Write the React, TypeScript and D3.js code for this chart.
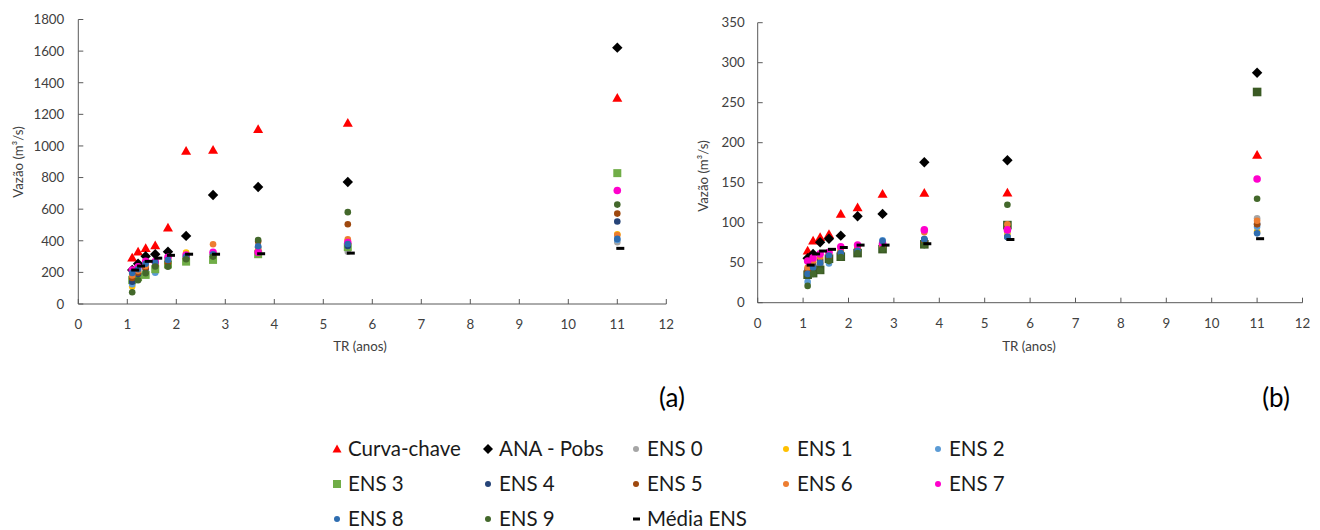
import React from "react";
import * as d3 from "d3";

// Return periods (anos)
const TR = [1.1, 1.22, 1.375, 1.57, 1.83, 2.2, 2.75, 3.67, 5.5, 11];
const xTicks = [0, 1, 2, 3, 4, 5, 6, 7, 8, 9, 10, 11, 12];
const yTicksA = [0, 200, 400, 600, 800, 1000, 1200, 1400, 1600, 1800];
const yTicksB = [0, 50, 100, 150, 200, 250, 300, 350];

// Chart (a)
const curvaA = [293, 331, 353, 370, 482, 968, 974, 1105, 1145, 1303];
const anaA = [215, 255, 302, 315, 331, 431, 690, 740, 772, 1622];
const ens0A = [130, 165, 200, 235, 270, 300, 305, 330, 331, 391];
const ens1A = [110, 175, 215, 250, 285, 325, 315, 340, 401, 441];
const ens2A = [125, 160, 205, 198, 260, 290, 300, 335, 375, 405];
const ens3A = [152, 170, 184, 220, 250, 268, 279, 315, 360, 828];
const ens4A = [141, 190, 225, 255, 270, 295, 310, 359, 367, 522];
const ens5A = [165, 200, 230, 245, 258, 290, 305, 395, 505, 572];
const ens6A = [180, 210, 240, 260, 280, 305, 378, 345, 410, 437];
const ens7A = [215, 235, 270, 268, 296, 310, 327, 327, 389, 718];
const ens8A = [196, 220, 255, 262, 279, 300, 315, 365, 380, 412];
const ens9A = [74, 150, 195, 237, 236, 283, 300, 405, 581, 629];
const mediaA = [215, 240, 270, 290, 308, 315, 315, 318, 322, 352];

// Chart (b)
const curvaB = [65, 77.5, 81.7, 85.5, 111, 119, 136, 137, 137.5, 184.6];
const anaB = [55.5, 61, 75.5, 80, 83.8, 108, 111, 175.5, 178, 287.5];
const ens0B = [32, 40, 47, 55, 62, 66, 70, 76, 85, 105.5];
const ens1B = [38, 50, 55, 60, 65, 69, 72, 77, 87, 88.8];
const ens2B = [26, 42, 48, 49, 60, 64, 78, 80, 90, 95];
const ens3B = [35, 37, 41, 55, 57.5, 62, 67, 73, 97, 263.4];
const ens4B = [42, 47, 53, 58, 63, 66, 70, 79, 82, 98.4];
const ens5B = [40, 45, 50, 57, 63, 67, 70, 76, 93, 98];
const ens6B = [44, 52, 57, 61, 66, 70, 71, 88, 98, 102.5];
const ens7B = [52, 56, 61, 63, 70, 72, 74, 91, 91, 154.6];
const ens8B = [36, 44, 50, 59, 62, 65, 77, 79, 82, 86.7];
const ens9B = [21, 36, 40, 52, 57, 62, 67, 72, 122.5, 130];
const mediaB = [47, 61, 64.6, 66.7, 69, 72, 72, 73.7, 79, 80];

const seriesNames = [
  "Curva-chave", "ANA - Pobs", "ENS 0", "ENS 1", "ENS 2", "ENS 3", "ENS 4",
  "ENS 5", "ENS 6", "ENS 7", "ENS 8", "ENS 9", "Média ENS",
];

type Shape = "tri" | "dia" | "circ" | "sq" | "dash";
type Style = { shape: Shape; color: string; r: number };

const stylesA: Style[] = [
  { shape: "tri", color: "#FF0000", r: 5 },
  { shape: "dia", color: "#000000", r: 5.2 },
  { shape: "circ", color: "#A5A5A5", r: 3.3 },
  { shape: "circ", color: "#FFC000", r: 3.3 },
  { shape: "circ", color: "#5B9BD5", r: 3.3 },
  { shape: "sq", color: "#70AD47", r: 4 },
  { shape: "circ", color: "#264478", r: 3.3 },
  { shape: "circ", color: "#9E480E", r: 3.3 },
  { shape: "circ", color: "#ED7D31", r: 3.3 },
  { shape: "circ", color: "#FF00CC", r: 3.8 },
  { shape: "circ", color: "#2E6DB0", r: 3.3 },
  { shape: "circ", color: "#43682B", r: 3.3 },
  { shape: "dash", color: "#000000", r: 4 },
];
const stylesB: Style[] = stylesA.map((s, i) =>
  i === 5 ? { ...s, color: "#3B5A24", r: 4.3 } : s
);

const dataA = [curvaA, anaA, ens0A, ens1A, ens2A, ens3A, ens4A, ens5A, ens6A, ens7A, ens8A, ens9A, mediaA];
const dataB = [curvaB, anaB, ens0B, ens1B, ens2B, ens3B, ens4B, ens5B, ens6B, ens7B, ens8B, ens9B, mediaB];

const FONT = "Lato, 'Open Sans', sans-serif";
const AXIS = "#595959";
const TEXT = "#404040";

function Marker({ cx, cy, st }: { cx: number; cy: number; st: Style }) {
  const r = st.r;
  switch (st.shape) {
    case "tri":
      return (
        <path
          d={`M${cx},${cy - r}L${cx + r},${cy + r * 0.75}L${cx - r},${cy + r * 0.75}Z`}
          fill={st.color}
        />
      );
    case "dia":
      return (
        <path d={`M${cx},${cy - r}L${cx + r},${cy}L${cx},${cy + r}L${cx - r},${cy}Z`} fill={st.color} />
      );
    case "sq":
      return <rect x={cx - r} y={cy - r} width={2 * r} height={2 * r} fill={st.color} />;
    case "dash":
      return <rect x={cx - 1} y={cy - 1.5} width={2 * r} height={3} fill={st.color} />;
    default:
      return <circle cx={cx} cy={cy} r={r} fill={st.color} />;
  }
}

type PanelProps = {
  x0: number; x1: number; yTop: number; yBot: number; yMax: number;
  yTicks: number[]; data: number[][]; styles: Style[];
  yTitleX: number; yTitleY: number; xTitleX: number; xTitleY: number; labelGap: number;
};

function Panel(p: PanelProps) {
  const x = d3.scaleLinear().domain([0, 12]).range([p.x0, p.x1]);
  const y = d3.scaleLinear().domain([0, p.yMax]).range([p.yBot, p.yTop]);
  return (
    <g>
      <line x1={p.x0} x2={p.x0} y1={p.yTop} y2={p.yBot} stroke={AXIS} strokeWidth={1} />
      <line x1={p.x0} x2={p.x1} y1={p.yBot} y2={p.yBot} stroke={AXIS} strokeWidth={1} />
      {p.yTicks.map((t) => (
        <g key={"y" + t}>
          <line x1={p.x0} x2={p.x0 + 5} y1={y(t)} y2={y(t)} stroke={AXIS} />
          <text x={p.x0 - p.labelGap} y={y(t)} dy="0.36em" textAnchor="end" fontSize={13.3} fill={TEXT} fontFamily={FONT}>
            {t}
          </text>
        </g>
      ))}
      {xTicks.map((t) => (
        <g key={"x" + t}>
          <line x1={x(t)} x2={x(t)} y1={p.yBot} y2={p.yBot - 5} stroke={AXIS} />
          <text x={x(t)} y={p.yBot + 25} textAnchor="middle" fontSize={13.3} fill={TEXT} fontFamily={FONT}>
            {t}
          </text>
        </g>
      ))}
      <text
        transform={`translate(${p.yTitleX},${p.yTitleY}) rotate(-90)`}
        textAnchor="middle"
        dy="0.36em"
        fontSize={13.3}
        fill={TEXT}
        fontFamily={FONT}
      >
        Vazão (m³/s)
      </text>
      <text x={p.xTitleX} y={p.xTitleY} textAnchor="middle" dy="0.36em" fontSize={13.3} fill={TEXT} fontFamily={FONT}>
        TR (anos)
      </text>
      {p.data.map((vals, si) => (
        <g key={"s" + si}>
          {vals.map((v, i) => (
            <Marker key={i} cx={x(TR[i])} cy={y(v)} st={p.styles[si]} />
          ))}
        </g>
      ))}
    </g>
  );
}

const legendCols = [337, 488, 636, 786, 938];
const legendRows = [449, 484, 519];

export default function App() {
  return (
    <svg width={1320} height={530} style={{ position: "absolute", left: 0, top: 0, background: "#fff" }}>
      <rect width={1320} height={530} fill="#fff" />
      <Panel
        x0={78.3} x1={666.3} yTop={19.5} yBot={304} yMax={1800} yTicks={yTicksA}
        data={dataA} styles={stylesA}
        yTitleX={18} yTitleY={162} xTitleX={360} xTitleY={346} labelGap={14}
      />
      <Panel
        x0={757.7} x1={1302.5} yTop={22.7} yBot={302.7} yMax={350} yTicks={yTicksB}
        data={dataB} styles={stylesB}
        yTitleX={703} yTitleY={176} xTitleX={1029} xTitleY={346} labelGap={13}
      />
      <text x={672} y={398} textAnchor="middle" dy="0.36em" fontSize={26} fill="#000" fontFamily={FONT}>
        (a)
      </text>
      <text x={1276} y={398} textAnchor="middle" dy="0.36em" fontSize={26} fill="#000" fontFamily={FONT}>
        (b)
      </text>
      {seriesNames.map((name, i) => {
        const col = i % 5;
        const row = Math.floor(i / 5);
        const cx = legendCols[col];
        const cy = legendRows[row];
        const st0 = stylesA[i];
        const st: Style =
          st0.shape === "circ" ? { ...st0, r: 3 } :
          st0.shape === "dash" ? { ...st0, r: 3.5 } :
          st0.shape === "tri" ? { ...st0, r: 4.5 } :
          st0.shape === "sq" ? { ...st0, r: 4 } : { ...st0, r: 5 };
        return (
          <g key={name}>
            <Marker cx={st.shape === "dash" ? cx - 2 : cx} cy={cy} st={st} />
            <text x={cx + 11} y={cy} dy="0.36em" fontSize={20.5} fill="#1a1a1a" fontFamily={FONT}>
              {name}
            </text>
          </g>
        );
      })}
    </svg>
  );
}
